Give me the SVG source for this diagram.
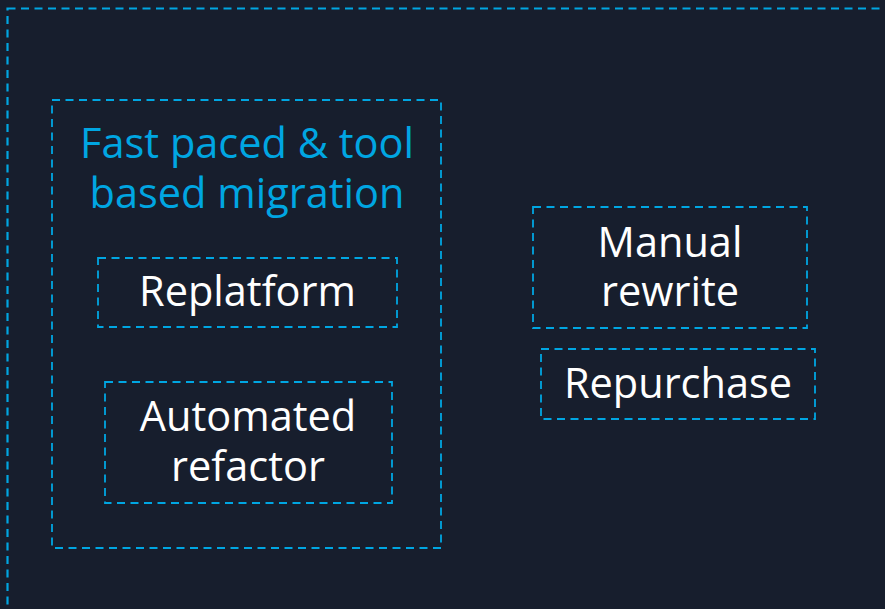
<svg xmlns="http://www.w3.org/2000/svg" width="885" height="609" viewBox="0 0 885 609">
<style>
.box{fill:none;stroke:#00a6e2;stroke-width:1.8;stroke-dasharray:8 5.5}
.lbl{font-family:"Open Sans","Noto Sans",sans-serif;font-size:41.5px;fill:#ffffff;text-anchor:middle}
.ttl{font-family:"Open Sans","Noto Sans",sans-serif;font-size:41.5px;fill:#00a6e2;text-anchor:middle}
</style>
<rect x="0" y="0" width="885" height="609" fill="#171e2d"/>
<g id="outer"><rect class="box" x="7.5" y="8.5" width="900" height="640" style="stroke-width:2.2"/></g>
<g id="group-fast">
<rect class="box" x="52" y="100" width="389" height="448"/>
<text class="ttl" x="247" y="158">Fast paced &amp; tool</text>
<text class="ttl" x="247" y="208">based migration</text>
</g>
<g id="replatform">
<rect class="box" x="98" y="258" width="299" height="69"/>
<text class="lbl" x="247.5" y="306">Replatform</text>
</g>
<g id="automated-refactor">
<rect class="box" x="105" y="382" width="287" height="121"/>
<text class="lbl" x="248" y="431">Automated</text>
<text class="lbl" x="248" y="481">refactor</text>
</g>
<g id="manual-rewrite">
<rect class="box" x="533" y="207" width="274" height="121"/>
<text class="lbl" x="670" y="257">Manual</text>
<text class="lbl" x="670" y="306">rewrite</text>
</g>
<g id="repurchase">
<rect class="box" x="541" y="349" width="274" height="70"/>
<text class="lbl" x="678" y="398">Repurchase</text>
</g>
<g id="connectors"></g>
</svg>
